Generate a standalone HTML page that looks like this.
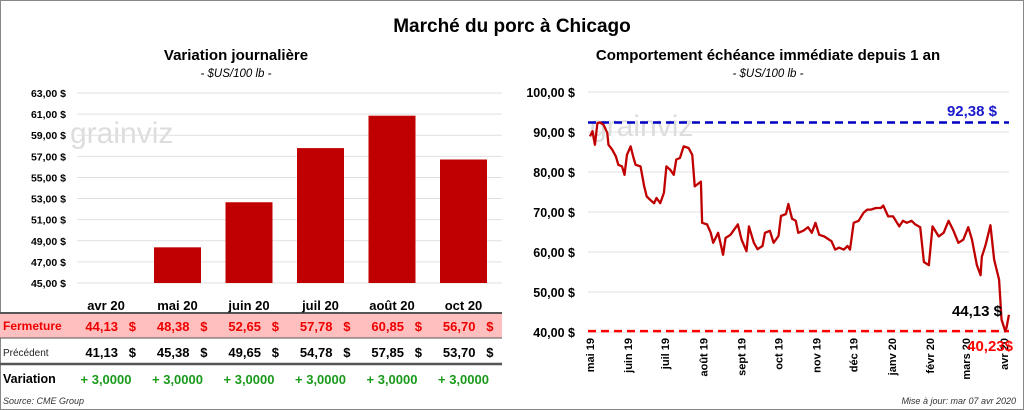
<!DOCTYPE html>
<html><head><meta charset="utf-8"><style>
body{margin:0;background:#fff}
svg{display:block;font-family:"Liberation Sans",sans-serif}
</style></head><body>
<svg id="c" width="1024" height="410" viewBox="0 0 1024 410" xmlns="http://www.w3.org/2000/svg">
<rect x="0.5" y="0.5" width="1023" height="409" fill="#fff" stroke="#888"/>
<text x="512" y="32" text-anchor="middle" font-size="19" font-weight="bold">Marché du porc à Chicago</text>
<text x="236" y="60" text-anchor="middle" font-size="15" font-weight="bold">Variation  journalière</text>
<text x="236" y="77" text-anchor="middle" font-size="11.5" font-style="italic">- $US/100 lb -</text>
<text x="768" y="60" text-anchor="middle" font-size="15" font-weight="bold">Comportement  échéance immédiate depuis 1 an</text>
<text x="768" y="77" text-anchor="middle" font-size="11.5" font-style="italic">- $US/100 lb -</text>
<rect x="0" y="313" width="502" height="25" fill="#ffbfbf"/>
<line x1="0" y1="313" x2="502" y2="313" stroke="#555" stroke-width="2"/>
<line x1="0" y1="338" x2="502" y2="338" stroke="#555" stroke-width="1"/>
<line x1="0" y1="364" x2="502" y2="364" stroke="#555" stroke-width="2.5"/>
<text x="3" y="330" font-size="12" fill="#e00" font-weight="bold">Fermeture</text>
<text x="3" y="356" font-size="10" fill="#222">Précédent</text>
<text x="3" y="383" font-size="12.5" font-weight="bold">Variation</text>
<text x="3" y="404" font-size="9" font-style="italic" fill="#333">Source: CME Group</text>
<text x="1016" y="404" text-anchor="end" font-size="9" font-style="italic" fill="#333">Mise à jour: mar 07 avr 2020</text>
<text x="70" y="143" font-size="30" fill="#ddd">grainviz</text>
<text x="590" y="136" font-size="30" fill="#ddd">grainviz</text>
<g id="L"></g><g id="R"></g>
</svg>
<script>
const cats=["avr 20","mai 20","juin 20","juil 20","août 20","oct 20"];
const closeVals=[44.13,48.38,52.65,57.78,60.85,56.70];
const prevVals=[41.13,45.38,49.65,54.78,57.85,53.70];
const varVals=["+ 3,0000","+ 3,0000","+ 3,0000","+ 3,0000","+ 3,0000","+ 3,0000"];
const leftTicks=[45,47,49,51,53,55,57,59,61,63];
const days=[0,2,4,6,8,11,14,15,18,21,23,26,28,30,33,35,37,41,44,46,49,52,54,57,60,62,65,68,70,73,76,80,83,85,90,91,95,98,100,104,108,110,114,117,120,123,127,129,133,136,140,142,146,149,153,155,159,161,164,167,169,173,177,180,183,186,190,194,196,199,202,206,209,211,214,218,222,225,228,232,236,238,242,246,251,254,257,261,264,268,271,275,278,283,287,291,295,299,303,307,310,314,317,318,321,325,328,332,334,337,338,340];
const prices=[88.9,90.2,86.8,92.2,92.4,91.8,89.8,86.8,85.6,83.9,81.8,81.4,79.3,84.3,86.4,83.9,81.8,81.4,76.4,73.9,73,72.2,73.5,72.2,74.8,81.4,80.6,79.3,83.1,83.5,86.4,86,84.3,76.4,77.6,67.3,66.9,64.8,62.3,64.8,59.3,63.5,64.3,65.6,66.9,63.1,60.2,66.4,62.3,60.7,61.5,64.8,65.3,62.3,64,69,69.5,72,68.3,67.8,64.8,65.3,66.2,64.8,67.3,64.3,63.9,63.1,62.7,60.6,61.1,60.6,61.5,60.6,67.3,67.8,69.8,70.6,70.6,71,71,71.6,68.9,68.9,66.4,67.8,67.3,67.8,66.9,66.2,57.5,56.7,66.4,63.9,64.8,67.8,65.3,62.3,63.1,66.2,63.1,56.7,54.2,58.8,61.7,66.7,58.1,53.1,43.1,40.2,41,44.3];
const rightTicks=[40,50,60,70,80,90,100];
const monthLabels=["mai 19","juin 19","juil 19","août 19","sept 19","oct 19","nov 19","déc 19","janv 20","févr 20","mars 20","avr 20"];
const monthDays=[0,31,61,92,123,153,184,214,245,276,305,336];
const highVal=92.38, lowVal=40.23, lastVal=44.13;
const NS="http://www.w3.org/2000/svg";
function mk(p,t,a,txt){const e=document.createElementNS(NS,t);for(const k in a)e.setAttribute(k,a[k]);if(txt!==undefined)e.textContent=txt;p.appendChild(e);return e;}
const fmt=v=>v.toFixed(2).replace('.',',');
const L=document.getElementById('L');
const ly=v=>283-(v-45)*(190/18);
const lx=i=>106+i*71.5;
leftTicks.forEach(t=>{
 const g=mk(L,'line',{x1:77,x2:502,y1:ly(t),y2:ly(t),stroke:'#e0e0e0','stroke-width':1});
 
 
 const tx=mk(L,'text',{x:66,y:ly(t)+4,'text-anchor':'end','font-size':10.5,'font-weight':'bold'},fmt(t)+' $');
 
 
});
cats.forEach((c,i)=>{
 const y0=ly(45),y1=ly(closeVals[i]);
 const h=Math.max(0,y0-y1);
 const b=mk(L,'rect',{x:lx(i)-23.5,y:y0-h,width:47,height:h,fill:'#c00000'});
 
 
 const t=mk(L,'text',{x:lx(i),y:310,'text-anchor':'middle','font-size':13,'font-weight':'bold'},c);
 
 
 const f=mk(L,'text',{x:lx(i)+30,y:331,'text-anchor':'end','font-size':13,'font-weight':'bold',fill:'#e00'},fmt(closeVals[i])+'\u00a0\u00a0\u00a0$');
 
 
 const p=mk(L,'text',{x:lx(i)+30,y:357,'text-anchor':'end','font-size':13,'font-weight':'bold'},fmt(prevVals[i])+'\u00a0\u00a0\u00a0$');
 
 
 const v=mk(L,'text',{x:lx(i),y:384,'text-anchor':'middle','font-size':13,'font-weight':'bold',fill:'#1a9a1a'},varVals[i]);
 
 
});
const R=document.getElementById('R');
const ry=v=>332-(v-40)*4;
const rx=d=>590+d*414/336;
rightTicks.forEach(t=>{
 const g=mk(R,'line',{x1:588,x2:1009,y1:ry(t),y2:ry(t),stroke:'#e0e0e0','stroke-width':1});
 
 
 const tx=mk(R,'text',{x:575,y:ry(t)+5,'text-anchor':'end','font-size':12.5,'font-weight':'bold'},fmt(t)+' $');
 
 
});
monthLabels.forEach((m,i)=>{
 const x=rx(monthDays[i]);
 const t=mk(R,'text',{x:0,y:0,'text-anchor':'end','font-size':11,'font-weight':'bold',transform:`translate(${x+4},338) rotate(-90)`},m);
 
 
});
const hl=mk(R,'line',{x1:588,x2:1009,y1:ry(highVal),y2:ry(highVal),stroke:'#0000c0','stroke-width':2.5,'stroke-dasharray':'8,5'});


const ll=mk(R,'line',{x1:588,x2:1009,y1:ry(lowVal),y2:ry(lowVal),stroke:'#f00','stroke-width':2.5,'stroke-dasharray':'8,5'});


const pl=mk(R,'polyline',{points:days.map((d,i)=>rx(d)+','+ry(prices[i])).join(' '),fill:'none',stroke:'#c00000','stroke-width':2.3,'stroke-linejoin':'round'});


const ht=mk(R,'text',{x:997,y:116,'text-anchor':'end','font-size':15,'font-weight':'bold',fill:'#1a1acc'},fmt(highVal)+' $');


const lt=mk(R,'text',{x:1002,y:316,'text-anchor':'end','font-size':15,'font-weight':'bold'},fmt(lastVal)+' $');


const lw=mk(R,'text',{x:1013,y:351,'text-anchor':'end','font-size':15,'font-weight':'bold',fill:'#f00'},fmt(lowVal)+'$');


</script>
</body></html>
